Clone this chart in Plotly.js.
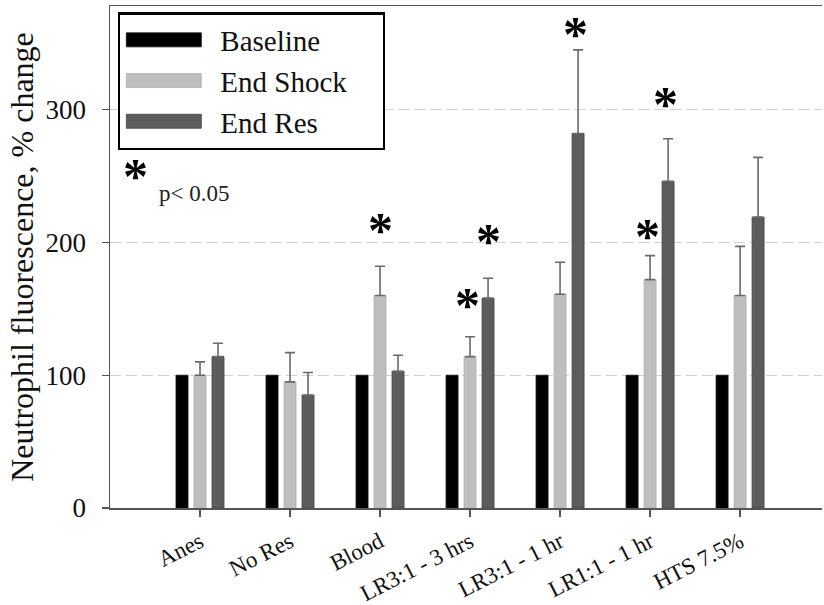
<!DOCTYPE html>
<html>
<head>
<meta charset="utf-8">
<script src="https://cdn.plot.ly/plotly-3.0.1.min.js"></script>
<style>html,body{margin:0;padding:0;background:#fff;}#chart{width:824px;height:605px;}</style>
</head>
<body>
<div id="chart"></div>
<script>
var categories = ['Anes', 'No Res', 'Blood', 'LR3:1 - 3 hrs', 'LR3:1 - 1 hr', 'LR1:1 - 1 hr', 'HTS 7.5%'];
var baseline = [100, 100, 100, 100, 100, 100, 100];
var endShock = [100, 95, 160, 114, 161, 172, 160];
var endShockErr = [10, 22, 22, 15, 24, 18, 37];
var endRes = [114, 85, 103, 158, 282, 246, 219];
var endResErr = [10, 17, 12, 15, 63, 32, 45];
var seriesNames = ['Baseline', 'End Shock', 'End Res'];
var yTicks = [0, 100, 200, 300];

var serif = 'Liberation Serif';
var zeros = categories.map(function () { return 0; });

function errBar(arr) {
  return { type: 'data', array: arr, arrayminus: zeros, symmetric: false, visible: true,
           color: '#6a6a6a', thickness: 1.6, width: 5 };
}

var traces = [
  { type: 'bar', name: seriesNames[0], x: categories, y: baseline,
    marker: { color: '#000000', line: { color: '#111', width: 0.8 } } },
  { type: 'bar', name: seriesNames[1], x: categories, y: endShock,
    marker: { color: '#bebebe', line: { color: '#b0b0b0', width: 0.8 } }, error_y: errBar(endShockErr) },
  { type: 'bar', name: seriesNames[2], x: categories, y: endRes,
    marker: { color: '#5c5c5c', line: { color: '#444', width: 0.8 } }, error_y: errBar(endResErr) }
];

function star(x, y) {
  return { xref: 'x', yref: 'y', x: x, y: y, text: '*', showarrow: false,
           font: { family: serif, size: 50, color: '#000', weight: 'bold' },
           yanchor: 'middle', xanchor: 'center', yshift: -8 };
}
var annotations = [
  star(2.0, 215), star(2.97, 159), star(3.2, 207), star(4.17, 363), star(4.97, 211), star(5.17, 310),
  star(-0.72, 256),
  { xref: 'x', yref: 'y', x: -0.48, y: 237, text: 'p< 0.05', showarrow: false, xanchor: 'left', yanchor: 'middle',
    font: { family: serif, size: 23, color: '#222' } }
];

var layout = {
  width: 824, height: 605,
  font: { family: serif, color: '#111' },
  margin: { l: 110, r: 2, t: 6, b: 97 },
  paper_bgcolor: '#fff', plot_bgcolor: '#fff',
  barmode: 'group', bargap: 0.4, bargroupgap: 0.333,
  showlegend: true,
  legend: { x: 0.011, y: 0.988, xanchor: 'left', yanchor: 'top', bgcolor: '#fff',
            bordercolor: '#000', borderwidth: 2.5, itemwidth: 90,
            font: { family: serif, size: 29, color: '#111' } },
  xaxis: { type: 'category', range: [-1, 6.91], showline: true, linecolor: '#555', linewidth: 1.5,
           mirror: true, ticks: 'outside', ticklen: 7, tickcolor: '#555', tickwidth: 1.2,
           ticklabelstandoff: 3,
           tickangle: -27, tickfont: { family: serif, size: 23, color: '#111' }, showgrid: false },
  yaxis: { range: [0, 378], tickvals: yTicks, showline: true, linecolor: '#555', linewidth: 1.5,
           ticks: 'outside', ticklen: 7, tickcolor: '#555', tickwidth: 1.2,
           ticklabelstandoff: 10,
           tickfont: { family: serif, size: 27, color: '#111' },
           showgrid: true, gridcolor: '#d0d0d0', gridwidth: 1.2, griddash: '11px,5px', zeroline: false,
           title: { text: 'Neutrophil fluorescence, % change', standoff: 2,
                    font: { family: serif, size: 32, color: '#111' } } },
  annotations: annotations
};

Plotly.newPlot('chart', traces, layout, { displayModeBar: false, staticPlot: true }).then(function () {
  var paths = document.querySelectorAll('.legend .legendpoints path');
  paths.forEach(function (p) { p.setAttribute('d', 'M-44,7H31V-7H-44Z'); });
  var bg = document.querySelector('.legend rect.bg');
  if (bg) { bg.setAttribute('width', 265); }
});
</script>
</body>
</html>
